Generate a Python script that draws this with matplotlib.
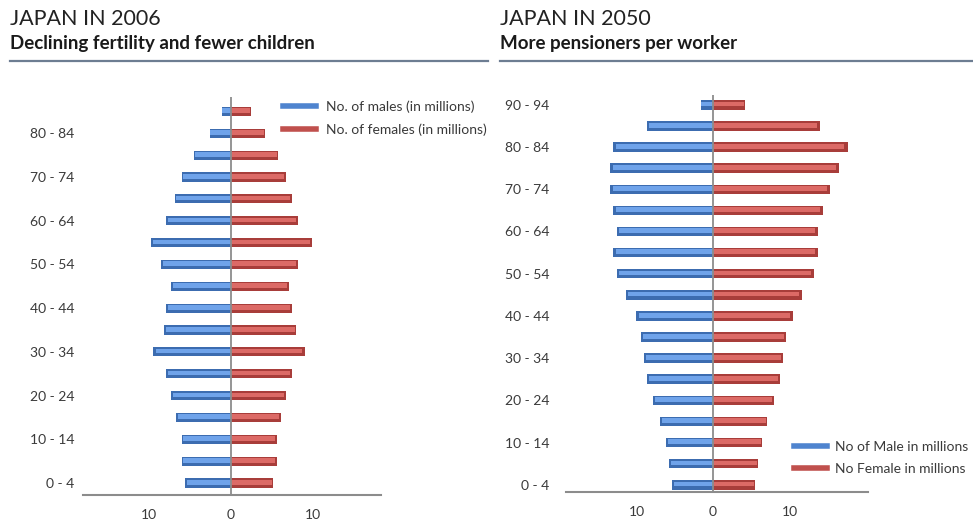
import numpy as np
import matplotlib
matplotlib.use("Agg")
import matplotlib.pyplot as plt
from matplotlib.lines import Line2D

plt.rcParams["font.family"] = ["Lato", "DejaVu Sans"]

# age groups, bottom to top
ages_2006 = ["0 - 4", "5 - 9", "10 - 14", "15 - 19", "20 - 24", "25 - 29",
             "30 - 34", "35 - 39", "40 - 44", "45 - 49", "50 - 54", "55 - 59",
             "60 - 64", "65 - 69", "70 - 74", "75 - 79", "80 - 84", "85 - 89"]
males_2006 = [5.6, 6.0, 6.0, 6.7, 7.3, 7.9, 9.5, 8.2, 7.9, 7.3, 8.6, 9.8,
              7.9, 6.9, 6.0, 4.5, 2.6, 1.15]
females_2006 = [5.1, 5.6, 5.6, 6.1, 6.7, 7.4, 9.0, 8.0, 7.4, 7.1, 8.2, 9.9,
                8.2, 7.4, 6.7, 5.8, 4.2, 2.4]

ages_2050 = ages_2006 + ["90 - 94"]
males_2050 = [5.3, 5.7, 6.1, 6.9, 7.8, 8.6, 9.0, 9.4, 10.0, 11.4, 12.6, 13.1,
              12.6, 13.0, 13.4, 13.4, 13.1, 8.6, 1.6]
females_2050 = [5.5, 5.9, 6.4, 7.1, 8.0, 8.8, 9.1, 9.6, 10.4, 11.6, 13.2, 13.7,
                13.7, 14.4, 15.3, 16.5, 17.7, 14.0, 4.2]

x_ticks = [-10, 0, 10]

BLUE_DARK = "#3c6cb0"
BLUE_LIGHT = "#6fa3ea"
RED_DARK = "#a83d3a"
RED_LIGHT = "#dc6a66"
TEXT = "#3a3a3a"
AXIS = "#8c8c8c"

fig = plt.figure(figsize=(9.73, 5.2), dpi=100)


def pyramid(ax, ages, males, females, xlim, ylim, bar_h):
    y = np.arange(len(ages))
    m = -np.array(males)
    f = np.array(females)
    # base bar plus a lighter stripe to fake the glossy look
    ax.barh(y, m, height=bar_h, color=BLUE_DARK, zorder=2)
    ax.barh(y + bar_h * 0.08, m * 0.97, height=bar_h * 0.5, color=BLUE_LIGHT, zorder=3)
    ax.barh(y, f, height=bar_h, color=RED_DARK, zorder=2)
    ax.barh(y + bar_h * 0.08, f * 0.97, height=bar_h * 0.5, color=RED_LIGHT, zorder=3)
    ax.axvline(0, color=AXIS, lw=1.3, zorder=4)
    ax.set_xlim(*xlim)
    ax.set_ylim(*ylim)
    ax.set_yticks(y[::2])
    ax.set_yticklabels(ages[::2])
    ax.set_xticks(x_ticks)
    ax.set_xticklabels([str(abs(t)) for t in x_ticks])
    for s in ["top", "right", "left"]:
        ax.spines[s].set_visible(False)
    ax.spines["bottom"].set_color(AXIS)
    ax.spines["bottom"].set_linewidth(1.5)
    ax.tick_params(length=0, labelsize=10, colors=TEXT)
    ax.tick_params(axis="x", pad=10)


ax1 = fig.add_axes([0.0853, 0.048, 0.306, 0.765])
pyramid(ax1, ages_2006, males_2006, females_2006, (-18.1, 18.3), (-0.55, 17.65), 0.42)
ax1.tick_params(axis="y", pad=6)

ax2 = fig.add_axes([0.5817, 0.0535, 0.310, 0.764])
pyramid(ax2, ages_2050, males_2050, females_2050, (-19.2, 20.2), (-0.35, 18.47), 0.45)
ax2.tick_params(axis="y", pad=12)

# legends
h1 = [Line2D([], [], color="#4f84cf", lw=4), Line2D([], [], color="#c0504d", lw=4)]
ax1.legend(h1, ["No. of males (in millions)", "No. of females (in millions)"],
           loc="upper left", bbox_to_anchor=(277 / 973, 1 - 95 / 520),
           bbox_transform=fig.transFigure, frameon=False, fontsize=10,
           handlelength=2.4, labelspacing=0.75, handletextpad=0.7,
           labelcolor=TEXT, borderaxespad=0)
ax2.legend(h1, ["No of Male in millions", "No Female in millions"],
           loc="upper left", bbox_to_anchor=(788 / 973, 1 - 435 / 520),
           bbox_transform=fig.transFigure, frameon=False, fontsize=10,
           handlelength=2.4, labelspacing=0.75, handletextpad=0.6,
           labelcolor=TEXT, borderaxespad=0)

# headings
for x0, x1, head, sub in [(10, 488, "JAPAN IN 2006", "Declining fertility and fewer children"),
                          (500, 973, "JAPAN IN 2050", "More pensioners per worker")]:
    fig.text(x0 / 973, 1 - 19 / 520, head, fontsize=15.5, color="#222222",
             va="center", ha="left")
    fig.text(x0 / 973, 1 - 44 / 520, sub, fontsize=13.5, color="#1a1a1a",
             fontweight="bold", va="center", ha="left")
    fig.add_artist(Line2D([x0 / 973, x1 / 973], [1 - 60.5 / 520] * 2,
                          transform=fig.transFigure, color="#6d7d92", lw=1.6))

fig.savefig("out.png", dpi=100)
